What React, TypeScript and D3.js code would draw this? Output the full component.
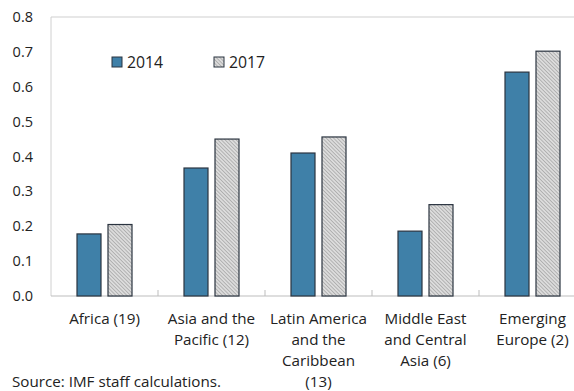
import React from "react";
import * as d3 from "d3";

const categories: string[][] = [
  ["Africa (19)"],
  ["Asia and the", "Pacific (12)"],
  ["Latin America", "and the", "Caribbean", "(13)"],
  ["Middle East", "and Central", "Asia (6)"],
  ["Emerging", "Europe (2)"],
];
const series2014 = [0.178, 0.367, 0.41, 0.186, 0.642];
const series2017 = [0.205, 0.45, 0.456, 0.262, 0.702];
const yTicks = [0, 0.1, 0.2, 0.3, 0.4, 0.5, 0.6, 0.7, 0.8];
const legendLabels = ["2014", "2017"];

const W = 574;
const H = 391;
const left = 51;
const right = 586;
const top = 17;
const bottom = 296;
const FONT = "'Open Sans', 'Noto Sans', sans-serif";
const BLUE = "#3f80a8";
const STROKE = "#2b3440";

export default function App() {
  const x = d3
    .scaleBand<number>()
    .domain(d3.range(categories.length))
    .range([left, right]);
  const y = d3.scaleLinear().domain([0, 0.8]).range([bottom, top]);
  const barW = 24;
  const gap = 7;

  return (
    <svg
      width={W}
      height={H}
      style={{ position: "absolute", left: 0, top: 0, background: "#fff" }}
    >
      <defs>
        <pattern
          id="hatch"
          patternUnits="userSpaceOnUse"
          width={2.6}
          height={2.6}
          patternTransform="rotate(-45)"
        >
          <rect width={2.6} height={2.6} fill="#dcdcdc" />
          <line x1={0} y1={0} x2={0} y2={2.6} stroke="#8a8a8a" strokeWidth={1} />
        </pattern>
      </defs>
      {/* plot frame */}
      <line x1={left} x2={left} y1={top} y2={bottom} stroke="#d0d0d0" strokeWidth={1} />
      <line x1={left} x2={W} y1={top} y2={top} stroke="#d0d0d0" strokeWidth={1.2} />
      <line x1={left} x2={W} y1={bottom} y2={bottom} stroke="#bdbdbd" strokeWidth={1.2} />
      {d3.range(1, categories.length).map((i) => (
        <line
          key={i}
          x1={x(i)!}
          x2={x(i)!}
          y1={bottom}
          y2={bottom - 6}
          stroke="#bdbdbd"
        />
      ))}
      {/* y tick labels */}
      {yTicks.map((t) => (
        <text
          key={t}
          x={33}
          y={y(t) + 5}
          textAnchor="end"
          fontFamily={FONT}
          fontSize={14.5}
          fill="#222"
        >
          {t.toFixed(1)}
        </text>
      ))}
      {/* bars */}
      {categories.map((_, i) => {
        const c = x(i)! + x.bandwidth() / 2;
        return (
          <g key={i}>
            <rect
              x={c - gap / 2 - barW}
              y={y(series2014[i])}
              width={barW}
              height={bottom - y(series2014[i])}
              fill={BLUE}
              stroke={STROKE}
              strokeWidth={1.2}
            />
            <rect
              x={c + gap / 2}
              y={y(series2017[i])}
              width={barW}
              height={bottom - y(series2017[i])}
              fill="url(#hatch)"
              stroke={STROKE}
              strokeWidth={1.2}
            />
          </g>
        );
      })}
      {/* category labels */}
      {categories.map((lines, i) => {
        const c = x(i)! + x.bandwidth() / 2;
        return (
          <text
            key={i}
            textAnchor="middle"
            fontFamily={FONT}
            fontSize={15.2}
            fill="#222"
          >
            {lines.map((l, j) => (
              <tspan key={j} x={c} y={324 + j * 21}>
                {l}
              </tspan>
            ))}
          </text>
        );
      })}
      {/* legend */}
      {legendLabels.map((l, i) => {
        const lx = 112 + i * 102;
        return (
          <g key={l}>
            <rect
              x={lx}
              y={57}
              width={10}
              height={10}
              fill={i === 0 ? BLUE : "url(#hatch)"}
              stroke={STROKE}
              strokeWidth={1}
            />
            <text x={lx + 15} y={68} fontFamily={FONT} fontSize={15.8} fill="#222">
              {l}
            </text>
          </g>
        );
      })}
      <text x={12} y={387} fontFamily={FONT} fontSize={15.2} fill="#222">
        Source: IMF staff calculations.
      </text>
    </svg>
  );
}
